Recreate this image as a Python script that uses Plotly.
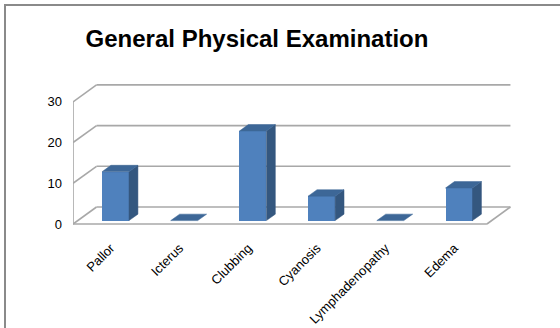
import plotly.graph_objects as go

categories = ["Pallor", "Icterus", "Clubbing", "Cyanosis", "Lymphadenopathy", "Edema"]
values = [12, 0, 22, 6, 0, 8]
y_ticks = [0, 10, 20, 30]

# pseudo-3D geometry (data units)
DX, DY = 0.342, 4.18        # depth vector (front wall -> back wall)
Z0, Z1 = 0.2, 0.58          # bar depth span
BW = 0.393                  # bar width
PAD = 0.05
FRONT = "#4f81bd"
SIDE = "#34577f"
TOP = "#3d6797"
GRID = "#a8a8a8"

fig = go.Figure()

n = len(categories)
xs = list(range(n))

x_left = -0.5 - PAD
x_right = n - 0.5 - PAD * 0.5
shapes = []
def line(x0, y0, x1, y1):
    shapes.append(dict(type="line", xref="x", yref="y", x0=x0, y0=y0, x1=x1, y1=y1,
                       line=dict(color=GRID, width=1.6), layer="below"))

for t in y_ticks:
    line(x_left, t, x_left + DX, t + DY)
    line(x_left + DX, t + DY, x_right + DX, t + DY)
line(x_left, 0, x_left, y_ticks[-1])
line(x_left, 0, x_right, 0)
line(x_right, 0, x_right + DX, DY)

for i, v in zip(xs, values):
    xl = i - BW / 2 + Z0 * DX
    xr = i + BW / 2 + Z0 * DX
    yb = Z0 * DY
    yt = yb + v
    ddx = (Z1 - Z0) * DX
    ddy = (Z1 - Z0) * DY
    if v > 0:
        fig.add_trace(go.Scatter(x=[xr, xr + ddx, xr + ddx, xr, xr],
                                 y=[yb, yb + ddy, yt + ddy, yt, yb],
                                 fill="toself", fillcolor=SIDE, mode="lines",
                                 line=dict(color=SIDE, width=0.5), hoverinfo="skip",
                                 showlegend=False))
    fig.add_trace(go.Scatter(x=[xl, xr, xr + ddx, xl + ddx, xl],
                             y=[yt, yt, yt + ddy, yt + ddy, yt],
                             fill="toself", fillcolor=TOP, mode="lines",
                             line=dict(color=TOP, width=0.5), hoverinfo="skip",
                             showlegend=False))

fig.add_trace(go.Bar(x=[i + Z0 * DX for i in xs], y=values, base=[Z0 * DY] * n,
                     width=BW, marker=dict(color=FRONT, line=dict(width=0)),
                     showlegend=False))

L, R, T, B = 73, 20, 60, 96
W, H = 560, 328
pw, ph = W - L - R, H - T - B
def px_to_paper_x(p):
    return (p - L) / pw
def px_to_paper_y(p):
    return (H - B - p) / ph
shapes.append(dict(type="rect", xref="paper", yref="paper",
                   x0=px_to_paper_x(5), x1=px_to_paper_x(W + 10),
                   y0=px_to_paper_y(H + 10), y1=px_to_paper_y(5),
                   line=dict(color="#8a8a8a", width=2), layer="below"))

xscale = 68.7
yscale = 4.07
x0_px = 110.8
y0_px = 224
fig.update_layout(
    width=W, height=H,
    margin=dict(l=L, r=R, t=T, b=B, autoexpand=False),
    paper_bgcolor="white", plot_bgcolor="rgba(0,0,0,0)",
    shapes=shapes,
    title=dict(text="<b>General Physical Examination</b>",
               font=dict(family="Liberation Sans", size=24, color="black"),
               x=257 / W, xref="container", xanchor="center",
               y=1 - 39 / H, yref="container", yanchor="middle"),
    xaxis=dict(range=[(L - x0_px) / xscale, (W - R - x0_px) / xscale],
               tickvals=xs, ticktext=categories, tickangle=-45,
               showgrid=False, zeroline=False, showline=False, ticks="",
               ticklabelstandoff=5, automargin=False,
               tickfont=dict(family="Liberation Sans", size=13, color="black"),
               fixedrange=True),
    yaxis=dict(range=[(y0_px - (H - B)) / yscale, (y0_px - T) / yscale],
               tickvals=y_ticks, ticktext=[str(t) for t in y_ticks],
               showgrid=False, zeroline=False, showline=False, ticks="",
               ticklabelstandoff=10, automargin=False,
               tickfont=dict(family="Liberation Sans", size=13, color="black"),
               fixedrange=True),
    bargap=0,
)

fig.write_html("out.html")
